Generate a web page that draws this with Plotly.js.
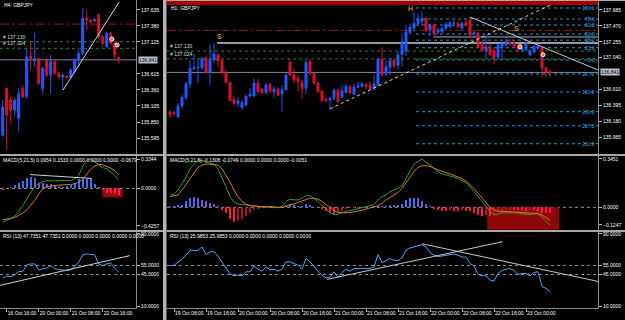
<!DOCTYPE html>
<html><head><meta charset="utf-8">
<script src="https://cdn.plot.ly/plotly-3.0.1.min.js"></script>
<style>html,body{margin:0;padding:0;background:#000;}#chart{width:625px;height:320px;}</style>
</head><body><div id="chart"></div>
<script>
// ---------------- LEFT WINDOW (H4) ----------------
const leftOpen  = [135.642,136.386,136.200,136.040,135.908,136.386,136.253,136.901,136.820,136.864,136.386,136.838,136.599,136.811,136.625,136.572,136.580,136.560,136.652,136.838,136.944,137.502,137.475,137.460,137.555,137.210,137.050,137.263,137.103,136.880];
const leftHigh  = [136.200,136.400,136.253,136.227,136.386,136.439,137.024,137.130,137.263,136.864,136.731,136.864,136.917,136.838,136.652,136.625,136.600,136.705,136.864,136.997,137.661,137.635,137.475,137.502,137.581,137.237,137.289,137.289,137.130,136.891];
const leftLow   = [135.616,135.403,135.828,135.950,135.695,136.227,136.227,136.678,136.731,136.439,136.306,136.572,136.306,136.599,136.545,136.360,136.540,136.545,136.625,136.731,136.917,137.316,137.422,137.449,137.183,137.050,137.024,137.077,136.838,136.785];
const leftClose = [136.083,135.960,136.040,136.200,136.306,136.253,136.891,136.838,136.860,136.466,136.705,136.599,136.811,136.625,136.572,136.599,136.560,136.678,136.838,136.944,137.502,137.475,137.449,137.480,137.210,137.103,137.263,137.103,136.917,136.841];
const leftHist  = [-0.022,0,0.019,0.034,0.057,0.084,0.122,0.133,0.122,0.065,0.057,0.046,0.046,0.034,0.027,0.019,0.023,0.034,0.057,0.103,0.103,0.103,0.103,0.046,0.019,-0.018,-0.047,-0.054,-0.065,-0.076];
const leftMacd  = [-0.385,-0.364,-0.342,-0.317,-0.263,-0.191,-0.119,-0.047,0.019,0.057,0.080,0.087,0.091,0.087,0.087,0.087,0.084,0.091,0.110,0.148,0.247,0.323,0.334,0.300,0.262,0.236,0.224,0.186,0.148,0.095];
const leftSignal= [-0.353,-0.349,-0.342,-0.328,-0.306,-0.281,-0.245,-0.191,-0.137,-0.065,-0.004,0.019,0.030,0.034,0.038,0.038,0.042,0.046,0.053,0.072,0.103,0.160,0.217,0.255,0.274,0.270,0.255,0.232,0.201,0.153];
const leftRsi   = [41,43.2,42.5,44.7,48.3,48.3,55.6,56.7,56.7,50.1,51.2,52,54.9,51.2,50.5,49.8,49.4,50.1,53.8,58.5,66.6,67.7,67.3,66.6,56.7,54.9,56.7,57.8,52,47.7];
const leftTickIdx  = [1,9,17,25];
const leftTickText = ['16 Oct 16:00','20 Oct 00:00','21 Oct 08:00','22 Oct 16:00'];
const leftPriceTicks = [137.635,137.380,137.125,136.615,136.360,136.105,135.850,135.595];
const leftMacdTicks  = [0.3344,0,-0.4257];

// ---------------- RIGHT WINDOW (H1) ----------------
const rightOpen = [136.306,136.300,136.243,136.387,136.504,136.685,136.890,136.900,136.905,137.041,
136.842,137.009,137.077,137.009,136.838,136.707,136.477,136.423,136.369,136.401,
136.522,136.522,136.694,136.617,136.567,136.680,136.581,136.613,136.550,136.604,
136.980,136.806,136.761,136.703,136.626,136.987,136.829,136.694,136.590,136.477,
136.468,136.491,136.604,136.504,136.572,136.649,136.549,136.640,136.649,136.680,
136.667,136.626,136.671,137.018,136.829,136.910,137.000,136.941,137.086,137.130,
137.380,137.437,137.504,137.530,137.572,137.414,137.482,137.383,137.392,137.437,
137.460,137.500,137.505,137.440,137.520,137.550,137.360,137.370,137.230,137.140,
137.190,137.140,137.050,137.190,137.210,137.250,137.240,137.190,137.140,137.150,
137.080,137.120,137.170,137.180,136.900,136.860];
const rightHigh = [136.333,136.320,136.423,136.536,136.716,137.009,137.099,137.032,137.045,137.054,
137.226,137.244,137.099,137.018,136.874,136.716,136.513,136.513,136.468,136.536,
136.626,136.761,136.761,136.630,136.694,136.700,136.650,136.630,136.670,136.830,
137.020,136.896,136.806,136.739,137.009,137.018,136.850,136.716,136.604,136.504,
136.504,136.626,136.613,136.671,136.694,136.671,136.694,136.716,136.716,136.694,
136.716,136.806,137.032,137.180,137.009,137.032,137.032,137.122,137.370,137.482,
137.500,137.662,137.640,137.662,137.595,137.505,137.500,137.440,137.460,137.520,
137.540,137.550,137.530,137.520,137.550,137.595,137.410,137.390,137.260,137.340,
137.230,137.170,137.230,137.260,137.290,137.290,137.270,137.210,137.190,137.250,
137.150,137.210,137.220,137.190,136.920,136.865];
const rightLow = [136.220,136.260,136.220,136.356,136.468,136.626,136.874,136.694,136.874,136.829,
136.671,136.964,136.919,136.815,136.694,136.446,136.401,136.369,136.333,136.387,
136.504,136.513,136.558,136.550,136.550,136.570,136.504,136.520,136.311,136.595,
136.790,136.694,136.581,136.477,136.549,136.806,136.685,136.558,136.446,136.430,
136.342,136.468,136.432,136.491,136.558,136.549,136.536,136.630,136.640,136.604,
136.595,136.604,136.658,136.784,136.784,136.806,136.896,136.874,136.919,137.060,
137.350,137.390,137.480,137.480,137.392,137.330,137.324,137.360,137.370,137.410,
137.430,137.470,137.440,137.420,137.460,137.324,137.330,137.170,137.120,137.030,
137.060,136.960,137.030,137.010,137.190,137.210,137.170,137.120,137.120,137.130,
137.060,137.100,137.150,136.775,136.775,136.775];
const rightClose = [136.270,136.280,136.387,136.504,136.685,136.896,136.910,136.910,137.032,136.842,
137.018,137.086,136.996,136.829,136.707,136.459,136.423,136.455,136.432,136.522,
136.549,136.694,136.581,136.567,136.671,136.581,136.613,136.536,136.604,136.806,
136.810,136.739,136.716,136.626,136.973,136.829,136.694,136.581,136.459,136.460,
136.491,136.604,136.446,136.595,136.649,136.567,136.640,136.655,136.685,136.650,
136.626,136.685,137.018,136.806,136.919,137.000,136.928,137.077,137.257,137.390,
137.450,137.504,137.563,137.570,137.414,137.482,137.370,137.414,137.437,137.495,
137.510,137.505,137.460,137.505,137.480,137.347,137.380,137.190,137.140,137.190,
137.080,137.030,137.210,137.230,137.260,137.230,137.190,137.140,137.170,137.230,
137.130,137.190,137.190,136.900,136.850,136.841];
const rightHist = [0.007,0.007,0.014,0.019,0.042,0.069,0.074,0.065,0.053,0.042,
0.030,0.023,0.012,-0.016,-0.039,-0.085,-0.101,-0.097,-0.085,-0.062,
-0.039,-0.018,-0.009,-0.004,-0.002,0.001,0.002,-0.002,0.002,0.019,
0.025,0.019,0.012,0.007,0.023,0.014,0.005,0.002,-0.012,-0.023,
-0.039,-0.051,-0.039,-0.028,-0.014,-0.007,-0.004,-0.002,0.001,0.002,
0.005,0.009,0.009,0.012,0.012,0.019,0.016,0.014,0.023,0.053,
0.065,0.069,0.065,0.046,0.023,0.007,-0.014,-0.018,-0.023,-0.023,
-0.018,-0.023,-0.023,-0.018,-0.023,-0.028,-0.039,-0.055,-0.062,-0.051,
-0.062,-0.051,-0.028,-0.023,-0.018,-0.016,-0.016,-0.018,-0.021,-0.023,
-0.018,-0.018,-0.023,-0.039,-0.039,-0.039];
const rightMacd = [0.088,0.093,0.123,0.169,0.215,0.273,0.307,0.337,0.331,0.319,
0.314,0.307,0.273,0.215,0.146,0.076,0.037,0.023,0.019,0.014,
0.012,0.007,0.007,0.005,0.005,0.007,0.005,-0.004,0.007,0.042,
0.058,0.053,0.053,0.065,0.083,0.083,0.065,0.042,0.014,-0.016,
-0.039,-0.051,-0.051,-0.039,-0.028,-0.023,-0.016,-0.009,0,0.007,
0.012,0.019,0.053,0.076,0.088,0.110,0.125,0.134,0.153,0.204,
0.261,0.307,0.326,0.345,0.319,0.303,0.277,0.254,0.238,0.231,
0.227,0.215,0.204,0.192,0.176,0.146,0.111,0.076,0.042,0.007,
-0.028,-0.055,-0.046,-0.039,-0.039,-0.039,-0.035,-0.039,-0.046,-0.051,
-0.051,-0.046,-0.046,-0.069,-0.101,-0.1247];
const rightSignal = [0.076,0.083,0.088,0.123,0.162,0.204,0.245,0.284,0.300,0.307,
0.307,0.305,0.300,0.273,0.227,0.180,0.123,0.076,0.042,0.023,
0.014,0.009,0.007,0.005,0.002,0.002,0,0,0,0.007,
0.019,0.025,0.035,0.042,0.053,0.065,0.065,0.058,0.042,0.019,
-0.004,-0.023,-0.035,-0.039,-0.039,-0.037,-0.032,-0.028,-0.021,-0.012,
-0.004,0,0.012,0.030,0.053,0.069,0.088,0.106,0.134,0.176,
0.215,0.254,0.284,0.296,0.296,0.292,0.277,0.268,0.257,0.245,
0.238,0.227,0.215,0.204,0.185,0.162,0.134,0.100,0.065,0.030,
0,-0.018,-0.028,-0.028,-0.030,-0.032,-0.032,-0.035,-0.037,-0.039,
-0.042,-0.039,-0.044,-0.055,-0.074,-0.092];
const rightRsi = [54.6,55.3,58.6,61.9,66.3,71.7,71.7,71.7,75.4,67,
69.9,70.6,65.2,59,52.4,45.8,43.6,44.3,43.6,48,
48,54.6,50.9,48.7,53.5,50.2,50.9,48.7,50.9,59,
59,57.5,55.3,50.9,62.6,59,53.5,48.7,44.3,41.4,
42.1,48,42.1,47.3,50.9,48.7,51.6,51.6,52.4,52.4,
51.6,53.5,67,58.2,60.1,62.6,60.8,60.4,63.3,72.1,
74.3,75.4,76.5,78,75.4,69.2,66.3,64.8,65.5,66.3,
67,67.7,66.3,64.4,64.1,57.1,54.6,45.1,43.6,43.6,
38.9,37.8,46.2,49.5,50.9,51.6,49.5,45.1,46.2,46.2,
43.6,47.3,48,31.6,29.7,26];
const rightTickIdx  = [1,9,17,25,33,41,49,57,65,73,81,89];
const rightTickText = ['19 Oct 08:00','19 Oct 16:00','20 Oct 00:00','20 Oct 08:00','20 Oct 16:00','21 Oct 00:00','21 Oct 08:00','21 Oct 16:00','22 Oct 00:00','22 Oct 08:00','22 Oct 16:00','23 Oct 00:00'];
const rightPriceTicks = [137.685,137.470,137.255,137.040,136.610,136.395,136.180,135.965];
const rightMacdTicks  = [0.3451,0,-0.1247];
const rsiTicks = [90,55,45,10];
const rsiLevels = [55,45];

// levels / objects
const currentPrice = 136.841;
const hLineLevels = [137.130,137.024];
const redLevel = 137.410;
const fibLevels = [137.712,137.563,137.482,137.360,137.277,137.175,137.010,136.820,136.577,136.310,136.120,135.877];
const fibLabels = ['100.0','78.6','61.8','50.0','38.2','23.6','0.0','127.2','161.8','200.0','227.2','261.8'];
const grayLevels = [137.239,137.320];
const leftTrendX = [15.1,29.1], leftTrendY = [136.36,137.76];
const rightUpX = [40,97], rightUpY = [136.35,137.80];
const rightDnX = [75,107], rightDnY = [137.59,136.874];
const leftRsiTrendX = [-0.7,31.8], leftRsiTrendY = [33,65.9];
const rightRsiUpX = [39.25,83.25], rightRsiUpY = [39.6,81.4];
const rightRsiDnX = [63,107], rightRsiDnY = [79,37.4];
const leftMacdTrendX = [6.8,22.3], leftMacdTrendY = [0.158,0.114];
const leftMarkX = [27.3,28.6], leftMarkY = [137.17,137.077];
const rightMarkX = [87.5,93.25], rightMarkY = [137.19,137.08];

// ---------------- drawing ----------------
const W=625,H=320;
const px=x=>x/W, py=y=>1-y/H;
const FONT='Liberation Sans, Arial, sans-serif';
const tf={family:FONT,size:5,color:'#ffffff'};
const BLUE='#1F5BFF', RED='#D8102E';
const idxOf=a=>a.map((_,i)=>i);
function histColors(h){return h.map((v,i)=>{const p=i>0?h[i-1]:v; if(v>=0) return v>=p?'#3D6AFF':'#7357D6'; return v<=p?'#FF1745':'#B0102C';});}

const L=idxOf(leftOpen), R=idxOf(rightOpen);
const candle=(x,o,h,l,c,xa,ya)=>({type:'candlestick',x,open:o,high:h,low:l,close:c,xaxis:xa,yaxis:ya,
  increasing:{line:{color:BLUE,width:1},fillcolor:BLUE},decreasing:{line:{color:RED,width:1},fillcolor:RED},
  whiskerwidth:0,hoverinfo:'skip'});
const line=(x,y,xa,ya,color,dash,w)=>({type:'scatter',mode:'lines',x,y,xaxis:xa,yaxis:ya,line:{color,width:w||1,dash:dash||'solid'},hoverinfo:'skip'});

const traces=[
  candle(L,leftOpen,leftHigh,leftLow,leftClose,'x','y'),
  candle(R,rightOpen,rightHigh,rightLow,rightClose,'x2','y4'),
  {type:'bar',x:L,y:leftHist,xaxis:'x',yaxis:'y2',width:0.55,marker:{color:histColors(leftHist),line:{width:0}},hoverinfo:'skip'},
  {type:'bar',x:R,y:rightHist,xaxis:'x2',yaxis:'y5',width:0.55,marker:{color:histColors(rightHist),line:{width:0}},hoverinfo:'skip'},
  line(L,leftMacd,'x','y2','#2FA02F'), line(L,leftSignal,'x','y2','#E07A10'),
  line(R,rightMacd,'x2','y5','#2FA02F'), line(R,rightSignal,'x2','y5','#E07A10'),
  line(L,leftRsi,'x','y3','#4AA6FF'), line(R,rightRsi,'x2','y6','#4AA6FF'),
  line(leftTrendX,leftTrendY,'x','y','#d8d8d8'),
  line(rightUpX,rightUpY,'x2','y4','#d8d8d8','dot'),
  line(rightDnX,rightDnY,'x2','y4','#c8c8c8'),
  line(leftRsiTrendX,leftRsiTrendY,'x','y3','#d0d0d0'),
  line(rightRsiUpX,rightRsiUpY,'x2','y6','#c8c8c8'),
  line(rightRsiDnX,rightRsiDnY,'x2','y6','#c8c8c8'),
  line(leftMacdTrendX,leftMacdTrendY,'x','y2','#d0d0d0'),
  {type:'scatter',mode:'markers',x:leftMarkX,y:leftMarkY,xaxis:'x',yaxis:'y',marker:{size:4,color:'#FF5A5A',line:{color:'#ffffff',width:1}},hoverinfo:'skip'},
  {type:'scatter',mode:'markers',x:rightMarkX,y:rightMarkY,xaxis:'x2',yaxis:'y4',marker:{size:4,color:'#FF5A5A',line:{color:'#ffffff',width:1}},hoverinfo:'skip'}
];

function yax(top,bot,range,tickvals,fmt,anchor){
  return {domain:[py(bot),py(top)],range,anchor,side:'right',tickvals,tickformat:fmt,showgrid:false,zeroline:false,
    showline:true,linecolor:'#8a8a8a',linewidth:1,ticks:'outside',ticklen:3,tickcolor:'#bbbbbb',tickfont:tf,automargin:false,fixedrange:true};
}
function xax(dom,range,anchor,tv,tt){
  return {domain:dom,range,anchor,tickvals:tv,ticktext:tt,tickangle:0,ticklabelposition:'outside right',ticks:'outside',ticklen:3,tickcolor:'#bbbbbb',
    showline:true,linecolor:'#8a8a8a',linewidth:1,showgrid:false,zeroline:false,rangeslider:{visible:false},tickfont:tf,automargin:false,fixedrange:true};
}

const shapes=[];
const hl=(yref,y,color,dash,w,xref,x0,x1)=>shapes.push({type:'line',xref:xref||(yref==='y'||yref==='y2'||yref==='y3'?'x domain':'x2 domain'),x0:x0===undefined?0:x0,x1:x1===undefined?1:x1,yref,y0:y,y1:y,line:{color,width:w||1,dash:dash||'solid'},layer:'below'});
['y','y4'].forEach(ya=>{
  hl(ya,redLevel,'#A01818','dashdot',1);
  hLineLevels.forEach(v=>hl(ya,v,'#189018','dot',1));
  hl(ya,currentPrice,'#7F8C99','solid',1);
});
fibLevels.forEach(v=>hl('y4',v,'#1E9AD8','dot',1,'x2',61.5,107));
hl('y4',grayLevels[0],'#9a9a9a','solid',2,'x2',11.75,107);
hl('y4',grayLevels[1],'#b0b0b0','solid',1,'x2',66,107);
hl('y2',0,'#909090','dot',1); hl('y5',0,'#909090','dot',1);
rsiLevels.forEach(v=>{hl('y3',v,'#909090','dot',1); hl('y6',v,'#909090','dot',1);});
shapes.push({type:'rect',xref:'x',yref:'y2',x0:25,x1:30,y0:-0.004,y1:-0.10,fillcolor:'#9A0A0A',line:{width:0},layer:'below'});
shapes.push({type:'rect',xref:'x2',yref:'y5',x0:79.3,x1:97.3,y0:0,y1:-0.16,fillcolor:'#8E0808',line:{width:0},layer:'below'});
shapes.push({type:'rect',xref:'paper',yref:'paper',x0:px(167),x1:px(598),y0:py(5),y1:py(1),fillcolor:'#A80000',line:{width:0}});
shapes.push({type:'rect',xref:'paper',yref:'paper',x0:px(163),x1:px(166.5),y0:0,y1:1,fillcolor:'#B4B4B4',line:{width:0}});
[155,231].forEach(y=>{
  shapes.push({type:'line',xref:'paper',yref:'paper',x0:0,x1:px(163),y0:py(y),y1:py(y),line:{color:'#A8A8A8',width:2}});
  shapes.push({type:'line',xref:'paper',yref:'paper',x0:px(166.5),x1:1,y0:py(y),y1:py(y),line:{color:'#A8A8A8',width:2}});
});
shapes.push({type:'line',xref:'paper',yref:'paper',x0:px(166.5),x1:1,y0:py(0.5),y1:py(0.5),line:{color:'#A8A8A8',width:1}});

const ann=[];
const txt=(text,x,y,o)=>ann.push(Object.assign({text,x,y,xref:'paper',yref:'paper',xanchor:'left',yanchor:'middle',showarrow:false,font:tf},o||{}));
txt('H4: GBPJPY',px(2),py(5));
txt('H1: GBPJPY',px(169),py(8));
txt('MACD(5,21,5) 0.0954 0.1533 0.0000 0.0000 0.0000 -0.0679',px(1),py(160));
txt('MACD(5,21,5) -0.1308 -0.0749 0.0000 0.0000 0.0000 -0.0051',px(168),py(160));
txt('RSI (13) 47.7351 47.7351 0.0000 0.0000 0.0000 0.0000 0.0000',px(1),py(236));
txt('RSI (13) 25.9853 25.9853 0.0000 0.0000 0.0000 0.0000 0.0000',px(168),py(236));
hLineLevels.forEach(v=>{
  txt('# '+v.toFixed(3),px(1),v,{yref:'y',yanchor:'bottom',font:Object.assign({},tf,{color:'#dddddd'})});
  txt('# '+v.toFixed(3),px(168),v,{yref:'y4',yanchor:'bottom',font:Object.assign({},tf,{color:'#dddddd'})});
});
fibLevels.forEach((v,i)=>txt(fibLabels[i],px(597),v,{yref:'y4',xanchor:'right',font:Object.assign({},tf,{color:'#2AA8E8'})}));
const yel=Object.assign({},tf,{color:'#F2D21B',size:7});
txt('S',12.25,137.33,{xref:'x2',yref:'y4',xanchor:'center',font:yel});
txt('S',86.5,137.44,{xref:'x2',yref:'y4',xanchor:'center',font:yel});
txt('H',60,137.71,{xref:'x2',yref:'y4',xanchor:'center',font:yel});
const cpFont=Object.assign({},tf,{color:'#000000'});
txt(currentPrice.toFixed(3),px(138),currentPrice,{yref:'y',bgcolor:'#B9C1CA',borderpad:0,font:cpFont});
txt(currentPrice.toFixed(3),px(600),currentPrice,{yref:'y4',bgcolor:'#B9C1CA',borderpad:0,font:cpFont});

const layout={
  width:W,height:H,margin:{l:0,r:0,t:0,b:0},paper_bgcolor:'#000000',plot_bgcolor:'#000000',showlegend:false,
  boxgap:0.3,bargap:0,font:tf,
  xaxis:xax([0,px(136)],[-0.675,33.325],'y3',leftTickIdx,leftTickText),
  xaxis2:xax([px(167),px(598)],[-0.75,107],'y6',rightTickIdx,rightTickText),
  yaxis: yax(0,154,[135.34,137.794],leftPriceTicks,'.3f','x'),
  yaxis2:yax(156,230,[-0.472,0.369],leftMacdTicks,'.4f','x'),
  yaxis3:yax(232,308,[8,92],rsiTicks,'.4f','x'),
  yaxis4:yax(0,154,[135.738,137.82],rightPriceTicks,'.3f','x2'),
  yaxis5:yax(156,230,[-0.161,0.365],rightMacdTicks,'.4f','x2'),
  yaxis6:yax(232,308,[8,92],rsiTicks,'.4f','x2'),
  shapes,annotations:ann
};
Plotly.newPlot('chart',traces,layout,{staticPlot:true,displayModeBar:false});
</script></body></html>
